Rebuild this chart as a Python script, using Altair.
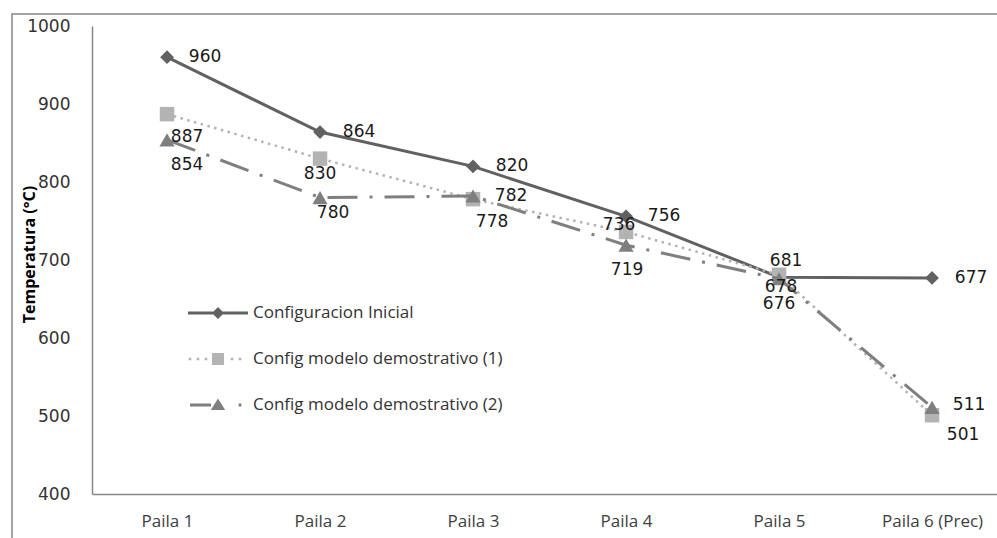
import altair as alt
import pandas as pd

# ---------------- data ----------------
categories = ["Paila 1", "Paila 2", "Paila 3", "Paila 4", "Paila 5", "Paila 6 (Prec)"]
series_names = [
    "Configuracion Inicial",
    "Config modelo demostrativo (1)",
    "Config modelo demostrativo (2)",
]
inicial = [960, 864, 820, 756, 678, 677]
demo1 = [887, 830, 778, 736, 681, 501]
demo2 = [854, 780, 782, 719, 676, 511]
y_ticks = [400, 500, 600, 700, 800, 900, 1000]

# ---------------- styles ----------------
colors = ["#616161", "#b3b3b3", "#7f7f7f"]
shapes = ["diamond", "square", "triangle-up"]
marker_sizes = [190, 210, 230]
dashes = [None, [2.5, 4.5], [30, 12, 3, 12]]
widths = [3, 2.5, 3]
# per-point label offsets (pixels), like the manually placed labels of the original
label_dx = [[38, 39, 39, 38, 2, 39], [20, 0, 19, -7, 7, 31], [20, 13, 38, 1, 0, 37]]
label_dy = [[0, 0, 0, 0, 10, 0], [23, 15, 23, -7, -14, 20], [25, 15, 0, 25, 25, -2]]


def sq(x, h):
    return f"M{x-h},{-h}L{x+h},{-h}L{x+h},{h}L{x-h},{h}Z"


legend_paths = [
    "M-3,-0.15L3,-0.15L3,0.15L-3,0.15Z M0,-0.6L0.6,0L0,0.6L-0.6,0Z",
    " ".join([sq(x, 0.13) for x in (-2.8, -2.0, -1.2, 1.4, 2.2)] + [sq(0, 0.6)]),
    "M-2.8,-0.15L-0.7,-0.15L-0.7,0.15L-2.8,0.15Z M0,-0.65L0.72,0.5L-0.72,0.5Z " + sq(2.2, 0.14),
]

rows = []
for si, (name, vals) in enumerate(zip(series_names, [inicial, demo1, demo2])):
    for ci, (cat, v) in enumerate(zip(categories, vals)):
        rows.append({"cat": cat, "serie": name, "temp": v, "s": si, "c": ci})
df = pd.DataFrame(rows)

xscale = alt.Scale(type="point", domain=categories, padding=0.4575, align=0.536)
yscale = alt.Scale(domain=[400, 1000], nice=False, zero=False)

x_enc = alt.X(
    "cat:N", scale=xscale, sort=categories,
    axis=alt.Axis(title=None, ticks=False, labelAngle=0, labelPadding=19,
                  labelFont="Open Sans", labelFontSize=17, labelColor="#404040",
                  domainColor="#868686", domainWidth=1.5, grid=False),
)
y_enc = alt.Y(
    "temp:Q", scale=yscale,
    axis=alt.Axis(values=y_ticks, format="d", title="Temperatura (°C)", ticks=False, grid=False,
                  labelPadding=22, labelFont="DejaVu Sans", labelFontSize=17,
                  labelColor="#333333", domainColor="#868686", domainWidth=1.5,
                  titleFont="Open Sans", titleFontSize=16, titleFontWeight="bold",
                  titleColor="#000000", titleAngle=-90, titleX=-63, titleY=228,
                  titleAlign="center", titleBaseline="middle"),
)

base = alt.Chart(df)

frame = alt.Chart(pd.DataFrame({"f": [0]})).mark_rect(
    fill="transparent", stroke="#868686", strokeWidth=1.5
).encode(x=alt.value(-80), x2=alt.value(1100), y=alt.value(-12), y2=alt.value(700))

layers = [frame]
for i in range(3):
    lkw = dict(color=colors[i], strokeWidth=widths[i])
    if dashes[i] is not None:
        lkw["strokeDash"] = dashes[i]
    layers.append(base.transform_filter(alt.datum.s == i).mark_line(**lkw).encode(x=x_enc, y=y_enc))
    layers.append(
        base.transform_filter(alt.datum.s == i)
        .mark_point(filled=True, shape=shapes[i], size=marker_sizes[i], color=colors[i], opacity=1)
        .encode(x=x_enc, y=y_enc)
    )

# data labels, one small layer per label so each gets its own offset
for i in range(3):
    for c in range(len(categories)):
        layers.append(
            base.transform_filter((alt.datum.s == i) & (alt.datum.c == c))
            .mark_text(font="DejaVu Sans", fontSize=17, color="#1a1a1a",
                       align="center", baseline="middle",
                       dx=label_dx[i][c], dy=label_dy[i][c])
            .encode(x=x_enc, y=y_enc, text="temp:Q")
        )

leg = alt.Legend(title=None, orient="none", legendX=116, legendY=277, padding=0,
                 symbolSize=400, symbolStrokeWidth=0, symbolOpacity=1,
                 labelOffset=25, rowPadding=28, labelFont="Open Sans",
                 labelFontSize=17, labelColor="#333333", labelLimit=400)
legend_layer = base.mark_point(filled=True, opacity=0).encode(
    x=x_enc, y=y_enc,
    color=alt.Color("serie:N", scale=alt.Scale(domain=series_names, range=colors), legend=leg),
    shape=alt.Shape("serie:N", scale=alt.Scale(domain=series_names, range=legend_paths), legend=leg),
)
layers.append(legend_layer)

chart = alt.layer(*layers).properties(
    width=905, height=468,
    autosize=alt.AutoSizeParams(type="none"),
    padding={"left": 92, "top": 26, "right": 0, "bottom": 44},
    background="white",
).configure_view(stroke=None)

chart.save("out.html", embed_options={"renderer": "svg", "actions": False})
